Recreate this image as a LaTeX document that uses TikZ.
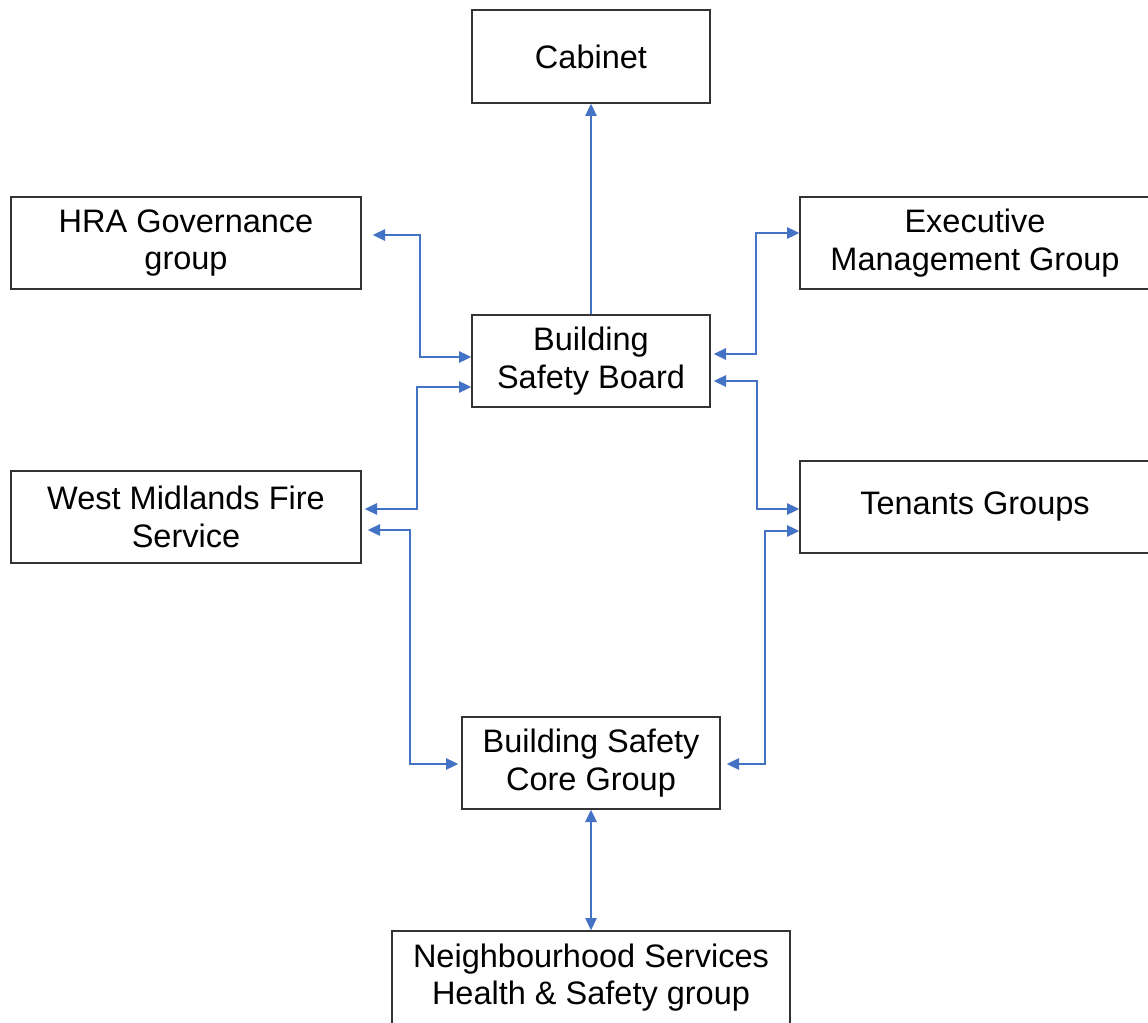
\documentclass[tikz,border=0pt]{standalone}
\usepackage{fontspec}
\setmainfont{Liberation Sans}
\usetikzlibrary{arrows.meta, calc}
\definecolor{linkblue}{RGB}{68,114,196}
\begin{document}
\begin{tikzpicture}[x=0.02cm, y=-0.02cm,
    box/.style={draw=black!80, line width=0.8pt, align=center, inner sep=0pt,
        font=\fontsize{18.5}{21.5}\selectfont},
    link/.style={draw=linkblue, line width=0.9pt, {Triangle[length=7pt, width=6.5pt]}-{Triangle[length=7pt, width=6.5pt]}}]
    \useasboundingbox (0, 0) rectangle (1148, 1023);
        \node[box, minimum width=238*0.02cm, minimum height=93*0.02cm] (cabinet) at (591, 56.5) {Cabinet};
        \node[box, minimum width=350*0.02cm, minimum height=92*0.02cm] (hra) at (186, 243) {HRA Governance\\group};
        \node[box, minimum width=350*0.02cm, minimum height=92*0.02cm] (exec) at (975, 243) {Executive\\Management Group};
        \node[box, minimum width=238*0.02cm, minimum height=92*0.02cm] (bsb) at (591, 361) {Building\\Safety Board};
        \node[box, minimum width=350*0.02cm, minimum height=92*0.02cm] (wmfs) at (186, 517) {West Midlands Fire\\Service};
        \node[box, minimum width=350*0.02cm, minimum height=92*0.02cm] (tenants) at (975, 507) {Tenants Groups};
        \node[box, minimum width=258*0.02cm, minimum height=92*0.02cm] (core) at (591, 763) {Building Safety\\Core Group};
        \node[box, minimum width=398*0.02cm, minimum height=93*0.02cm] (nbhd) at (591, 977.5) {Neighbourhood Services\\Health \& Safety group};
        % board up to cabinet
        \draw[draw=linkblue, line width=0.9pt, -{Triangle[length=7pt, width=6.5pt]}] (bsb.north) -- (cabinet.south);
        % left side
        \draw[link] ($(hra.east)+(11,-8)$) -- (420, 235) -- (420, 357) -- ($(bsb.west)+(0,-4)$);
        \draw[link] ($(bsb.west)+(0,26)$) -- (417, 387) -- (417, 509) -- ($(wmfs.east)+(3,-8)$);
        \draw[link] ($(wmfs.east)+(6,13)$) -- (410, 530) -- (410, 764) -- ($(core.west)+(-3,1)$);
        % right side
        \draw[link] ($(exec.west)+(0,-10)$) -- (756, 233) -- (756, 354) -- ($(bsb.east)+(3,-7)$);
        \draw[link] ($(bsb.east)+(3,20)$) -- (757, 381) -- (757, 509) -- ($(tenants.west)+(0,2)$);
        \draw[link] ($(tenants.west)+(0,24)$) -- (765, 531) -- (765, 764) -- ($(core.east)+(6,1)$);
        % core down to neighbourhood
        \draw[link] (core.south) -- (nbhd.north);
    \end{tikzpicture}
\end{document}
